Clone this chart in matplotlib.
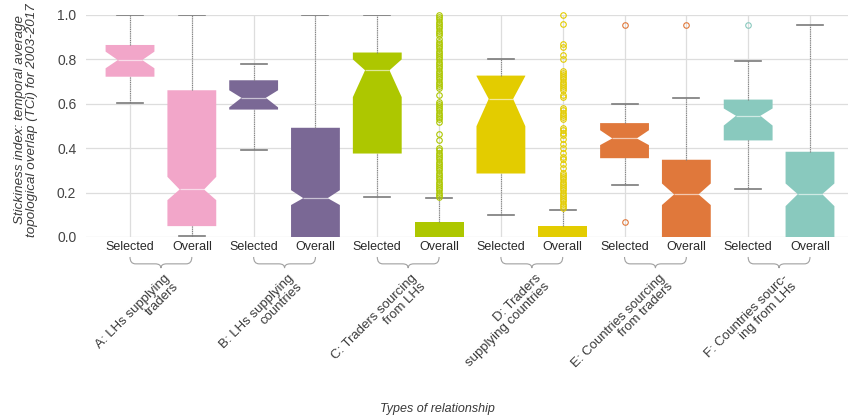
import matplotlib
matplotlib.use("Agg")
import matplotlib.pyplot as plt
from matplotlib.path import Path
from matplotlib.patches import PathPatch

plt.rcParams['font.family'] = ['Liberation Sans', 'DejaVu Sans']

# groups and box labels
groups = ["A: LHs supplying\ntraders", "B: LHs supplying\ncountries",
          "C: Traders sourcing\nfrom LHs", "D: Traders\nsupplying countries",
          "E: Countries sourcing\nfrom traders", "F: Countries sourc-\ning from LHs"]
box_labels = ["Selected", "Overall"] * 6
colors = ["#F2A6C9", "#7A6895", "#ADC700", "#E3CC00", "#E0783B", "#89C9BE"]

# box stats (Selected, Overall for each group)
med    = [0.797, 0.214, 0.627, 0.175, 0.751, 0.0, 0.622, 0.0, 0.444, 0.192, 0.546, 0.193]
q1     = [0.722, 0.049, 0.574, 0.0,   0.376, 0.0, 0.286, 0.0, 0.355, 0.0,   0.435, 0.0]
q3     = [0.865, 0.661, 0.706, 0.492, 0.831, 0.069, 0.727, 0.048, 0.513, 0.348, 0.619, 0.384]
whislo = [0.605, 0.003, 0.393, 0.0,   0.181, 0.0, 0.099, 0.0, 0.232, 0.0,   0.216, 0.0]
whishi = [1.0,   1.0,   0.778, 1.0,   1.0,   0.177, 0.802, 0.121, 0.598, 0.628, 0.795, 0.954]
cilo   = [0.760, 0.166, 0.584, 0.144, 0.630, 0.0, 0.499, 0.0, 0.414, 0.144, 0.502, 0.139]
cihi   = [0.835, 0.271, 0.661, 0.211, 0.800, 0.0, 0.725, 0.0, 0.481, 0.241, 0.579, 0.241]

fliers_c = [1.0, 0.99, 0.98, 0.97, 0.96, 0.95, 0.94, 0.93, 0.92, 0.91,
            0.89, 0.88, 0.87, 0.86, 0.85, 0.84, 0.83, 0.82, 0.81, 0.80, 0.79, 0.78,
            0.77, 0.76, 0.75, 0.74, 0.73, 0.72, 0.71, 0.70, 0.69, 0.68, 0.67, 0.64,
            0.61, 0.60, 0.59, 0.58, 0.57, 0.56, 0.55, 0.54, 0.53, 0.52, 0.465, 0.435,
            0.40, 0.39, 0.38, 0.37, 0.36, 0.35, 0.34, 0.33, 0.32, 0.31, 0.30, 0.29,
            0.28, 0.27, 0.26, 0.25, 0.24, 0.23, 0.22, 0.21, 0.20, 0.19, 0.18]
fliers_d = [1.0, 0.96, 0.87, 0.855, 0.82, 0.80, 0.75, 0.74, 0.73, 0.72, 0.71, 0.70,
            0.69, 0.68, 0.67, 0.66, 0.64, 0.63, 0.58, 0.57, 0.56, 0.55, 0.54, 0.53,
            0.49, 0.48, 0.47, 0.46, 0.44, 0.42, 0.40, 0.38, 0.36, 0.35, 0.33, 0.31,
            0.29, 0.28, 0.27, 0.26, 0.25, 0.24, 0.23, 0.22, 0.21, 0.20, 0.19, 0.18,
            0.17, 0.16, 0.15, 0.14, 0.13]
fliers = [[], [], [], [], [], fliers_c, [], fliers_d, [0.955, 0.067], [0.957], [0.954], []]

stats = []
for i in range(12):
    stats.append(dict(med=med[i], q1=q1[i], q3=q3[i], whislo=whislo[i], whishi=whishi[i],
                      cilo=cilo[i], cihi=cihi[i], fliers=fliers[i], label=box_labels[i]))

fig = plt.figure(figsize=(8.48, 4.17), dpi=100)
ax = fig.add_axes([86 / 848, 1 - 237 / 417, 762 / 848, 222 / 417])

positions = list(range(1, 13))
bp = ax.bxp(stats, positions=positions, widths=0.79, capwidths=0.42,
            patch_artist=True, shownotches=True,
            boxprops=dict(linewidth=0),
            medianprops=dict(color="white", linewidth=0.9, alpha=0.6),
            whiskerprops=dict(color="#808080", linewidth=0.8, linestyle=(0, (1, 1))),
            capprops=dict(color="#7a7a7a", linewidth=1.2),
            flierprops=dict(marker="o", markersize=4, markerfacecolor="none",
                            markeredgewidth=0.8))

for i, box in enumerate(bp["boxes"]):
    c = colors[i // 2]
    box.set_facecolor(c)
    box.set_edgecolor(c)
    bp["fliers"][i].set_markeredgecolor(c)
    bp["fliers"][i].set_clip_on(False)
    # nothing to see for boxes sitting on zero
    if med[i] == 0:
        bp["medians"][i].set_visible(False)
    if whislo[i] == 0:
        bp["caps"][2 * i].set_visible(False)

ax.set_xlim(0.288, 12.615)
ax.set_ylim(0, 1.0)
ax.set_yticks([0.0, 0.2, 0.4, 0.6, 0.8, 1.0])
ax.set_yticklabels(["0.0", "0.2", "0.4", "0.6", "0.8", "1.0"])
ax.set_xticks(positions)
ax.set_xticklabels(box_labels)
ax.tick_params(axis="x", length=0, pad=3, labelsize=9, labelcolor="#2a2a2a")
ax.tick_params(axis="y", length=0, pad=7, labelsize=10, labelcolor="#444444")
for s in ax.spines.values():
    s.set_visible(False)
ax.grid(True, color="#dddddd", linewidth=0.9)
ax.set_axisbelow(True)

# braces and group labels under each pair
tr = ax.get_xaxis_transform()
ytop, ymid, ytip = -0.090, -0.121, -0.140
r = 0.09
for g in range(6):
    x0, x1 = positions[2 * g], positions[2 * g + 1]
    c = (x0 + x1) / 2
    verts = [(x0, ytop), (x0, ymid), (x0 + r, ymid), (c - r, ymid),
             (c, ymid), (c, ytip), (c, ymid), (c + r, ymid), (x1 - r, ymid),
             (x1, ymid), (x1, ytop)]
    codes = [Path.MOVETO, Path.CURVE3, Path.CURVE3, Path.LINETO,
             Path.CURVE3, Path.CURVE3, Path.CURVE3, Path.CURVE3, Path.LINETO,
             Path.CURVE3, Path.CURVE3]
    ax.add_patch(PathPatch(Path(verts, codes), transform=tr, fill=False,
                           edgecolor="#a0a0a0", linewidth=0.8, clip_on=False))
    ax.text(c + 0.05, -0.158, groups[g], transform=tr, rotation=45,
            rotation_mode="anchor", ha="right", va="top", multialignment="right",
            fontsize=9.5, color="#3a3a3a", linespacing=1.0)

fig.text(26 / 848, 1 - 120 / 417,
         "Stickiness index: temporal average\ntopological overlap (TCi) for 2003-2017",
         rotation=90, ha="center", va="center", fontsize=9.6, style="italic",
         color="#3a3a3a", linespacing=1.1)
fig.text(437 / 848, 1 - 409 / 417, "Types of relationship", ha="center", va="center",
         fontsize=9, style="italic", color="#3a3a3a")

fig.savefig("out.png", dpi=100)
